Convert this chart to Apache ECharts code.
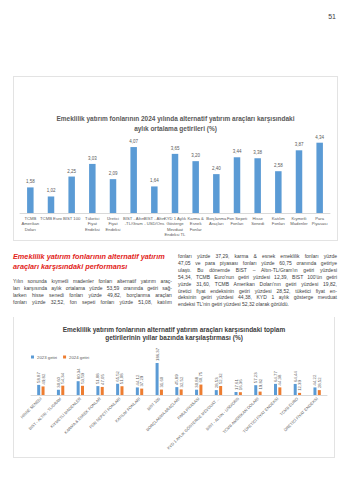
<!DOCTYPE html>
<html><head><meta charset="utf-8">
<script src="https://cdn.jsdelivr.net/npm/echarts@6/dist/echarts.min.js"></script>
<style>
html,body{margin:0;padding:0;background:#fff;width:350px;height:480px;overflow:hidden;font-family:"Liberation Sans","DejaVu Sans",sans-serif;}
#pg{position:absolute;right:14px;top:13px;font-size:7px;color:#404040;}
#c1{position:absolute;left:13px;top:76px;width:323px;height:163px;border:1px solid #e3e3e3;}
#c2{position:absolute;left:13px;top:317px;width:320px;height:140px;border:1px solid #e3e3e3;border-top:none;}
#head{position:absolute;left:13px;top:252px;width:165px;color:#e2231a;font-weight:bold;font-style:italic;font-size:7.3px;line-height:10px;white-space:nowrap;}
.col{position:absolute;width:159px;color:#404040;font-size:5px;line-height:6.9px;}
.col div{text-align:justify;text-align-last:justify;white-space:nowrap;}
.col div.l{text-align-last:left;}
#lc{left:13px;top:278px;}
#rc{left:178px;top:253px;}
</style></head><body>
<div id="pg">51</div>
<div id="c1"></div>
<div id="head">Emeklilik yatırım fonlarının alternatif yatırım<br>araçları karşısındaki performansı</div>
<div id="lc" class="col">
<div>Yılın sonunda kıymetli madenler fonları alternatif yatırım araç-</div>
<div>ları karşısında aylık ortalama yüzde 53,59 oranında getiri sağ-</div>
<div>larken hisse senedi fonları yüzde 49,82, borçlanma araçları</div>
<div>fonları yüzde 32,52, fon sepeti fonları yüzde 51,08, katılım</div>
</div>
<div id="rc" class="col">
<div>fonları yüzde 37,29, karma &amp; esnek emeklilik fonları yüzde</div>
<div>47,05 ve para piyasası fonları yüzde 60,75 oranında getiriye</div>
<div>ulaştı. Bu dönemde BIST – Altın-TL/Gram'ın getiri yüzdesi</div>
<div>54,34, TCMB Euro'nun getiri yüzdesi 12,39, BIST 100'ün getiri</div>
<div>yüzde 31,60, TCMB Amerikan Doları'nın getiri yüzdesi 19,82,</div>
<div>üretici fiyat endeksinin getiri yüzdesi 28,52, tüketici fiyat en-</div>
<div>deksinin getiri yüzdesi 44,38, KYD 1 aylık gösterge mevduat</div>
<div class="l">endeksi TL'nin getiri yüzdesi 52,32 olarak görüldü.</div>
</div>
<div id="c2"></div>
<script>
// Chart 1 data
var cats1 = ["TCMB\nAmerikan\nDoları","TCMB Euro","BIST 100","Tüketici\nFiyat\nEndeksi","Üretici\nFiyat\nEndeksi","BIST - Altın\n-TL/Gram","BIST - Altın\n- USD/Ons","KYD 1 Aylık\nGösterge\nMevduat\nEndeksi TL","Karma &\nEsnek\nFonlar","Borçlanma\nAraçları","Fon Sepeti\nFonları","Hisse\nSenedi","Katılım\nFonları","Kıymetli\nMadenler","Para\nPiyasası"];
var vals1 = [1.58,1.02,2.25,3.03,2.09,4.07,1.64,3.65,3.20,2.40,3.44,3.38,2.58,3.87,4.34];
var title1 = "Emeklilik yatırım fonlarının 2024 yılında alternatif yatırım araçları karşısındaki\naylık ortalama getirileri (%)";

// Chart 2 data
var cats2 = ["HİSSE SENEDİ","BIST - ALTIN - TL/GRAM","KIYMETLİ MADENLER","KARMA & ESNEK FONLAR","FON SEPETİ FONLARI","KATILIM FONLARI","BIST 100","BORÇLANMA ARAÇLARI","PARA PİYASASI","KYD 1 AYLIK GÖSTERGE MEVDUAT ...","BIST - ALTIN - USD/ONS","TCMB AMERİKAN DOLARI","TÜKETİCİ FİYAT ENDEKSİ","TCMB EURO","ÜRETİCİ FİYAT ENDEKSİ"];
var vals2023 = [58.87,30.60,80.34,51.88,65.52,44.12,186.37,45.89,30.88,28.53,17.61,57.23,64.77,64.44,44.22];
var vals2024 = [49.82,54.34,53.59,47.05,51.08,37.29,31.60,32.52,60.75,52.32,16.36,19.82,44.38,12.39,28.52];
var series2Names = ["2023 getiri","2024 getiri"];
var title2 = "Emeklilik yatırım fonlarının alternatif yatırım araçları karşısındaki toplam\ngetirilerinin yıllar bazında karşılaştırması (%)";

var FF = '"Liberation Sans","DejaVu Sans",sans-serif';
function fmt(p){ return p.value.toFixed(2).replace('.', ','); }

var ch1 = echarts.init(document.getElementById('c1'), null, {renderer:'svg'});
ch1.setOption({
  animation:false,
  title:{text:title1,left:'center',top:32,textStyle:{fontSize:6.5,fontWeight:'bold',color:'#595959',lineHeight:9.5,fontFamily:FF}},
  grid:{left:6,right:7,top:55,bottom:27},
  xAxis:{type:'category',data:cats1,axisLine:{lineStyle:{color:'#d9d9d9'}},axisTick:{show:false},
    axisLabel:{interval:0,fontSize:4.2,lineHeight:5.2,color:'#595959',margin:3,fontFamily:FF}},
  yAxis:{type:'value',min:0,max:5,show:false},
  series:[{type:'bar',data:vals1,barWidth:6.5,itemStyle:{color:'#5b9bd5'},
    label:{show:true,position:'top',distance:3,fontSize:4.5,color:'#595959',formatter:fmt,fontFamily:FF}}]
});

var ch2 = echarts.init(document.getElementById('c2'), null, {renderer:'svg'});
var lbl = {show:true,position:'top',rotate:90,align:'left',verticalAlign:'middle',distance:2,fontSize:4.3,color:'#595959',formatter:fmt,fontFamily:FF};
ch2.setOption({
  animation:false,
  title:{text:title2,left:'center',top:3,textStyle:{fontSize:6.5,fontWeight:'bold',color:'#404040',lineHeight:8.5,fontFamily:FF}},
  legend:{left:12,top:33,itemWidth:3,itemHeight:3,itemGap:6,icon:'rect',textStyle:{fontSize:4.3,color:'#595959',fontFamily:FF,padding:[0,0,0,-2]}},
  grid:{left:17,right:7,top:46,bottom:62},
  xAxis:{type:'category',data:cats2,axisLine:{lineStyle:{color:'#d9d9d9'}},axisTick:{show:false},
    axisLabel:{interval:0,rotate:45,fontSize:4,color:'#595959',margin:3,fontFamily:FF}},
  yAxis:{type:'value',min:0,max:186.37,show:false},
  series:[
    {name:series2Names[0],type:'bar',data:vals2023,barWidth:3,barGap:'45%',itemStyle:{color:'#5b9bd5'},label:lbl},
    {name:series2Names[1],type:'bar',data:vals2024,barWidth:3,itemStyle:{color:'#ed7d31'},label:lbl}
  ]
});
</script>
</body></html>
